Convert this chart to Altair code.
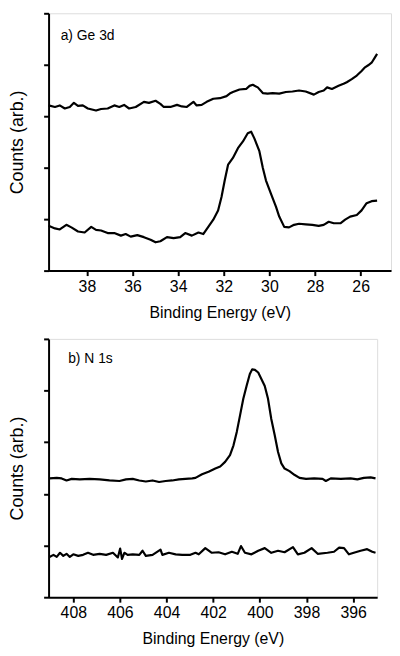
import altair as alt
import pandas as pd

# ---------- Panel a) Ge 3d ----------
ge_upper_ev = [39.68, 39.40, 39.19, 38.97, 38.75, 38.57, 38.39, 38.18, 37.96, 37.60, 37.38, 37.09,
               36.80, 36.58, 36.37, 36.15, 35.86, 35.50, 35.28, 34.99, 34.78, 34.63, 34.34, 34.05,
               33.84, 33.62, 33.33, 33.19, 32.97, 32.75, 32.46, 32.17, 31.88, 31.74, 31.60, 31.31,
               31.02, 30.87, 30.73, 30.51, 30.29, 30.08, 29.86, 29.57, 29.28, 28.99, 28.70, 28.41,
               28.05, 27.84, 27.62, 27.47, 27.26, 26.97, 26.75, 26.61, 26.39, 26.17, 25.96, 25.81,
               25.67, 25.52, 25.38, 25.28]
ge_upper_counts = [3.21, 3.18, 3.21, 3.15, 3.18, 3.26, 3.20, 3.21, 3.15, 3.11, 3.14, 3.15,
                   3.21, 3.18, 3.22, 3.15, 3.18, 3.28, 3.26, 3.30, 3.24, 3.18, 3.18, 3.22,
                   3.19, 3.18, 3.28, 3.21, 3.22, 3.28, 3.34, 3.35, 3.39, 3.44, 3.47, 3.52,
                   3.53, 3.59, 3.61, 3.56, 3.45, 3.44, 3.45, 3.44, 3.47, 3.48, 3.50, 3.48,
                   3.42, 3.47, 3.50, 3.56, 3.53, 3.59, 3.63, 3.66, 3.72, 3.79, 3.88, 3.95,
                   3.99, 4.04, 4.14, 4.21]

ge_lower_ev = [39.68, 39.40, 39.19, 38.90, 38.68, 38.39, 38.10, 37.81, 37.60, 37.38, 37.09, 36.80,
               36.51, 36.30, 36.08, 35.79, 35.50, 35.21, 34.99, 34.78, 34.49, 34.20, 33.91, 33.69,
               33.40, 33.11, 32.90, 32.68, 32.46, 32.25, 32.10, 31.96, 31.81, 31.60, 31.38, 31.16,
               30.95, 30.80, 30.66, 30.44, 30.29, 30.15, 29.93, 29.71, 29.57, 29.35, 29.14, 28.92,
               28.70, 28.41, 28.12, 27.84, 27.62, 27.40, 27.18, 26.89, 26.68, 26.46, 26.17, 25.96,
               25.74, 25.52, 25.28]
ge_lower_counts = [0.87, 0.82, 0.80, 0.89, 0.84, 0.76, 0.74, 0.85, 0.79, 0.78, 0.73, 0.73,
                   0.68, 0.71, 0.66, 0.69, 0.65, 0.60, 0.55, 0.57, 0.65, 0.63, 0.65, 0.73,
                   0.68, 0.74, 0.71, 0.85, 0.99, 1.17, 1.43, 1.75, 2.06, 2.19, 2.38, 2.51,
                   2.67, 2.70, 2.57, 2.32, 2.00, 1.75, 1.49, 1.24, 1.05, 0.85, 0.84, 0.89,
                   0.91, 0.90, 0.89, 0.87, 0.89, 0.95, 0.92, 0.92, 0.99, 1.05, 1.08, 1.17,
                   1.31, 1.35, 1.36]

# ---------- Panel b) N 1s ----------
n_upper_ev = [409.02, 408.71, 408.50, 408.29, 408.07, 407.72, 407.30, 406.87, 406.45, 406.02,
              405.74, 405.45, 405.17, 404.89, 404.60, 404.32, 404.04, 403.76, 403.47, 403.19,
              402.90, 402.76, 402.48, 402.20, 401.91, 401.70, 401.49, 401.28, 401.13, 400.99,
              400.85, 400.71, 400.57, 400.43, 400.33, 400.21, 400.07, 399.93, 399.79, 399.65,
              399.51, 399.36, 399.22, 399.08, 398.94, 398.73, 398.52, 398.30, 398.02, 397.67,
              397.31, 397.17, 396.96, 396.53, 396.11, 395.82, 395.54, 395.25, 395.04]
n_upper_counts = [2.30, 2.31, 2.30, 2.26, 2.29, 2.28, 2.29, 2.28, 2.26, 2.25,
                  2.28, 2.29, 2.26, 2.24, 2.26, 2.23, 2.25, 2.26, 2.28, 2.29,
                  2.30, 2.31, 2.38, 2.43, 2.49, 2.53, 2.62, 2.75, 2.94, 3.20,
                  3.52, 3.84, 4.09, 4.32, 4.41, 4.40, 4.35, 4.22, 4.09, 3.84,
                  3.45, 3.13, 2.81, 2.59, 2.49, 2.44, 2.37, 2.31, 2.29, 2.30,
                  2.29, 2.25, 2.30, 2.29, 2.30, 2.28, 2.31, 2.32, 2.30]

n_lower_ev = [409.02, 408.85, 408.71, 408.57, 408.43, 408.29, 408.15, 408.00, 407.79, 407.58,
              407.37, 407.15, 406.87, 406.59, 406.30, 406.09, 405.99, 405.91, 405.81, 405.67,
              405.45, 405.17, 405.03, 404.89, 404.60, 404.26, 404.18, 403.90, 403.61, 403.33,
              402.98, 402.76, 402.62, 402.34, 402.06, 401.77, 401.49, 401.20, 400.95, 400.81,
              400.64, 400.36, 400.07, 399.79, 399.51, 399.22, 398.94, 398.58, 398.37, 398.09,
              397.78, 397.52, 397.10, 396.82, 396.60, 396.39, 396.18, 395.97, 395.68, 395.40,
              395.18, 395.04]
n_lower_counts = [0.78, 0.82, 0.78, 0.86, 0.80, 0.84, 0.78, 0.83, 0.80, 0.82,
                  0.86, 0.82, 0.84, 0.82, 0.86, 0.77, 0.94, 0.74, 0.86, 0.82,
                  0.83, 0.82, 0.90, 0.80, 0.82, 0.92, 0.82, 0.86, 0.83, 0.82,
                  0.82, 0.86, 0.83, 0.95, 0.86, 0.87, 0.83, 0.88, 0.84, 0.99,
                  0.86, 0.83, 0.90, 0.95, 0.86, 0.90, 0.87, 0.97, 0.83, 0.86,
                  0.95, 0.84, 0.86, 0.88, 0.96, 0.95, 0.83, 0.86, 0.90, 0.93,
                  0.88, 0.86]

ge_ticks = [26, 28, 30, 32, 34, 36, 38]
n_ticks = [396, 398, 400, 402, 404, 406, 408]
y_ticks = [0, 1, 2, 3, 4, 5]

FONT = "Liberation Sans"


def make_df(ev_a, c_a, ev_b, c_b):
    return pd.concat([
        pd.DataFrame({"ev": ev_a, "counts": c_a, "series": "upper"}),
        pd.DataFrame({"ev": ev_b, "counts": c_b, "series": "lower"}),
    ], ignore_index=True)


def panel(df, domain, ticks, label, label_x, label_y, width, height):
    x = alt.X("ev:Q",
              scale=alt.Scale(domain=domain, reverse=True, nice=False, zero=False),
              axis=alt.Axis(title="Binding Energy (eV)", values=ticks, grid=False,
                            tickSize=5, tickWidth=2, domainWidth=2, domainColor="black",
                            tickColor="black", labelFontSize=16, labelColor="black",
                            labelPadding=3, titleFontSize=16, titleFontWeight="normal",
                            titleColor="black", titlePadding=10, labelFont=FONT,
                            titleFont=FONT))
    y = alt.Y("counts:Q",
              scale=alt.Scale(domain=[0, 5], nice=False, zero=False),
              axis=alt.Axis(title="Counts (arb.)", values=y_ticks, labels=False, grid=False,
                            tickSize=5, tickWidth=2, domainWidth=2, domainColor="black",
                            tickColor="black", titleFontSize=18, titleFontWeight="normal",
                            titleColor="black", titlePadding=16, titleFont=FONT))
    lines = alt.Chart(df).mark_line(color="black", strokeWidth=2.2, strokeJoin="round").encode(
        x=x, y=y, detail="series:N", order="idx:Q"
    ).transform_window(idx="row_number()", groupby=["series"])
    lab = alt.Chart(pd.DataFrame({"ev": [label_x], "counts": [label_y], "t": [label]})).mark_text(
        align="left", baseline="alphabetic", fontSize=14, font=FONT, color="black"
    ).encode(x=alt.X("ev:Q"), y=alt.Y("counts:Q"), text="t:N")
    return alt.layer(lines, lab).properties(width=width, height=height)


df_a = make_df(ge_upper_ev, ge_upper_counts, ge_lower_ev, ge_lower_counts)
df_b = make_df(n_upper_ev, n_upper_counts, n_lower_ev, n_lower_counts)

pa = panel(df_a, [24.67, 39.68], ge_ticks, "a) Ge 3d", 39.15, 4.48, 346, 260)
pb = panel(df_b, [394.97, 409.06], n_ticks, "b) N 1s", 408.22, 4.53, 332, 261)

chart = alt.vconcat(pa, pb, spacing=16).properties(padding=0).configure_view(
    strokeWidth=0
).configure(background="white")

chart.save("out.html", embed_options={"renderer": "svg", "actions": False})
